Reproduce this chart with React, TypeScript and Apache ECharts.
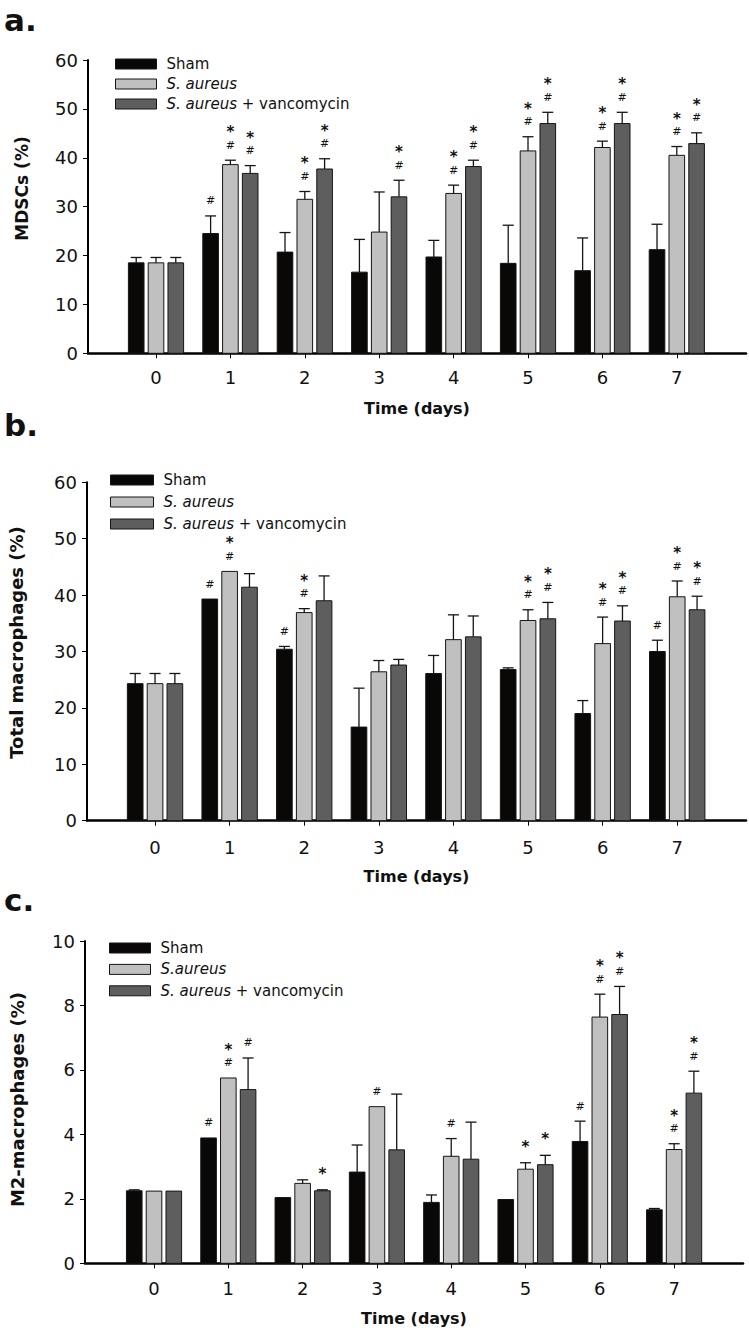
import React, { useEffect, useRef } from "react";
import * as echarts from "echarts";

const days = [0, 1, 2, 3, 4, 5, 6, 7];

// Panel a: MDSCs (%)
const aSham = [18.5, 24.5, 20.7, 16.6, 19.7, 18.4, 16.9, 21.2];
const aShamErr = [1.1, 3.6, 4.0, 6.7, 3.4, 7.8, 6.7, 5.2];
const aAur = [18.5, 38.6, 31.5, 24.8, 32.7, 41.4, 42.1, 40.5];
const aAurErr = [1.1, 0.9, 1.6, 8.2, 1.7, 2.9, 1.3, 1.8];
const aVan = [18.5, 36.8, 37.7, 32.0, 38.2, 47.0, 47.0, 42.9];
const aVanErr = [1.1, 1.6, 2.1, 3.4, 1.3, 2.3, 2.3, 2.2];
const aShamSig = ["", "#", "", "", "", "", "", ""];
const aAurSig = ["", "#*", "#*", "", "#*", "#*", "#*", "#*"];
const aVanSig = ["", "#*", "#*", "#*", "#*", "#*", "#*", "#*"];

// Panel b: Total macrophages (%)
const bSham = [24.3, 39.3, 30.4, 16.6, 26.1, 26.8, 19.0, 30.0];
const bShamErr = [1.8, 0, 0.5, 6.9, 3.2, 0.3, 2.3, 2.0];
const bAur = [24.3, 44.2, 36.9, 26.4, 32.1, 35.5, 31.4, 39.7];
const bAurErr = [1.8, 0, 0.7, 2.0, 4.4, 1.9, 4.7, 2.8];
const bVan = [24.3, 41.4, 39.0, 27.6, 32.6, 35.8, 35.4, 37.4];
const bVanErr = [1.8, 2.4, 4.4, 1.0, 3.7, 2.9, 2.7, 2.4];
const bShamSig = ["", "#", "#", "", "", "", "", "#"];
const bAurSig = ["", "#*", "#*", "", "", "#*", "#*", "#*"];
const bVanSig = ["", "", "", "", "", "#*", "#*", "#*"];

// Panel c: M2-macrophages (%)
const cSham = [2.25, 3.89, 2.04, 2.83, 1.89, 1.98, 3.78, 1.66];
const cShamErr = [0.03, 0, 0, 0.84, 0.23, 0, 0.63, 0.04];
const cAur = [2.24, 5.75, 2.48, 4.86, 3.32, 2.92, 7.64, 3.53];
const cAurErr = [0, 0, 0.11, 0, 0.55, 0.2, 0.71, 0.18];
const cVan = [2.24, 5.39, 2.25, 3.52, 3.23, 3.06, 7.72, 5.28];
const cVanErr = [0, 0.98, 0.03, 1.73, 1.15, 0.29, 0.87, 0.68];
const cShamSig = ["", "#", "", "", "", "", "#", ""];
const cAurSig = ["", "#*", "", "#", "#", "*", "#*", "#*"];
const cVanSig = ["", "#", "*", "", "", "*", "#*", "#*"];

const legendA = ["Sham", "S. aureus", "S. aureus + vancomycin"];
const legendC = ["Sham", "S.aureus", "S. aureus + vancomycin"];

const FONT = "DejaVu Sans";
const INK = "#111";
const COLORS = ["#0a0707", "#c0c0c0", "#5e5e5e"];
const OFFSETS = [-0.266, 0, 0.266];
const BAR_W = 0.21;

function makeRender(offset: number, color: string, sigs: string[]) {
  return (params: any, api: any) => {
    const x = api.value(0);
    const v = api.value(1);
    const e = api.value(2);
    const tl = api.coord([x + offset - BAR_W / 2, v]);
    const br = api.coord([x + offset + BAR_W / 2, 0]);
    const cx = api.coord([x + offset, v])[0];
    const top = tl[1];
    const errY = api.coord([x + offset, v + e])[1];
    const children: any[] = [
      {
        type: "rect",
        shape: { x: tl[0], y: top, width: br[0] - tl[0], height: br[1] - top },
        style: { fill: color, stroke: "#151515", lineWidth: 1 },
      },
    ];
    if (e > 0) {
      children.push({
        type: "line",
        shape: { x1: cx, y1: top, x2: cx, y2: errY },
        style: { stroke: "#151515", lineWidth: 1.3 },
      });
      children.push({
        type: "line",
        shape: { x1: cx - 5.5, y1: errY, x2: cx + 5.5, y2: errY },
        style: { stroke: "#151515", lineWidth: 1.3 },
      });
    }
    const sig = sigs[params.dataIndex] || "";
    const hasHash = sig.indexOf("#") >= 0;
    const hasStar = sig.indexOf("*") >= 0;
    if (hasHash) {
      children.push({
        type: "text",
        style: {
          text: "#",
          x: cx,
          y: errY - 15,
          align: "center",
          verticalAlign: "middle",
          fontSize: 11,
          fontFamily: FONT,
          fill: INK,
        },
      });
    }
    if (hasStar) {
      children.push({
        type: "text",
        style: {
          text: "*",
          x: cx,
          y: (hasHash ? errY - 32 : errY - 20) + 4,
          align: "center",
          verticalAlign: "middle",
          fontSize: 15,
          fontWeight: "bold",
          fontFamily: FONT,
          fill: INK,
        },
      });
    }
    return { type: "group", children };
  };
}

function buildSeries(
  names: string[],
  vals: number[][],
  errs: number[][],
  sigs: string[][],
  axisIndex: number
) {
  return names.map((name, s) => ({
    type: "custom",
    name,
    xAxisIndex: axisIndex,
    yAxisIndex: axisIndex,
    itemStyle: { color: COLORS[s], borderColor: "#151515", borderWidth: 1 },
    renderItem: makeRender(OFFSETS[s], COLORS[s], sigs[s]),
    encode: { x: 0, y: 1 },
    data: days.map((d, i) => [d, vals[s][i], errs[s][i]]),
    clip: false,
    z: 1,
  }));
}

function legendFormatter(name: string) {
  if (name === "S. aureus + vancomycin") return "{i|S. aureus} + vancomycin";
  if (name.indexOf("S.") === 0) return "{i|" + name + "}";
  return name;
}

function makeLegend(names: string[], left: number, top: number, gap: number, w: number) {
  return {
    orient: "vertical",
    left,
    top,
    padding: 0,
    itemGap: gap,
    itemWidth: w,
    itemHeight: 10,
    icon: "rect",
    selectedMode: false,
    data: names.map((n, s) => ({
      name: n,
      itemStyle: { color: COLORS[s], borderColor: "#151515", borderWidth: 1 },
    })),
    formatter: legendFormatter,
    textStyle: {
      fontFamily: FONT,
      fontSize: 15,
      lineHeight: 16,
      color: INK,
      padding: [0, 0, 0, 5],
      rich: {
        i: { fontFamily: FONT, fontSize: 15, fontStyle: "italic", color: INK, lineHeight: 16 },
      },
    },
  };
}

function makeX(gridIndex: number, min: number, max: number, labelMargin: number, nameGap: number) {
  return {
    type: "value",
    gridIndex,
    min,
    max,
    axisLine: { show: true, onZero: false, lineStyle: { color: "#000", width: 2.5 } },
    axisTick: { show: true, customValues: days, length: 5, lineStyle: { color: "#000", width: 1 } },
    axisLabel: { customValues: days, margin: labelMargin, fontFamily: FONT, fontSize: 18, color: INK },
    splitLine: { show: false },
    name: "Time (days)",
    nameLocation: "middle",
    nameGap,
    nameTextStyle: { fontFamily: FONT, fontSize: 16, fontWeight: "bold", color: INK },
  };
}

function makeY(gridIndex: number, max: number, interval: number) {
  return {
    type: "value",
    gridIndex,
    min: 0,
    max,
    interval,
    axisLine: { show: true, onZero: false, lineStyle: { color: "#000", width: 2 } },
    axisTick: { show: true, length: 5, lineStyle: { color: "#000", width: 1 } },
    axisLabel: { margin: 10, fontFamily: FONT, fontSize: 18, color: INK },
    splitLine: { show: false },
  };
}

function yName(text: string, x: number, y: number, size: number) {
  return {
    type: "text",
    x,
    y,
    rotation: Math.PI / 2,
    style: {
      text,
      x: 0,
      y: 0,
      align: "center",
      verticalAlign: "middle",
      fontFamily: FONT,
      fontSize: size,
      fontWeight: "bold",
      fill: INK,
    },
  };
}

function panelLetter(text: string, x: number, y: number) {
  return {
    type: "text",
    style: {
      text,
      x,
      y,
      align: "left",
      verticalAlign: "middle",
      fontFamily: FONT,
      fontSize: 31,
      fontWeight: "bold",
      fill: INK,
    },
  };
}

export default function App() {
  const ref = useRef<HTMLDivElement>(null);
  useEffect(() => {
    if (!ref.current) return;
    const chart = echarts.init(ref.current, null, { renderer: "svg" });
    const option: any = {
      animation: false,
      backgroundColor: "#ffffff",
      grid: [
        { left: 88, top: 60, width: 658, height: 293.3 },
        { left: 87, top: 482.3, width: 659, height: 338.4 },
        { left: 85, top: 941, width: 658, height: 322.3 },
      ],
      xAxis: [
        makeX(0, -0.914, 7.93, 15, 47),
        makeX(1, -0.912, 7.922, 18, 48),
        makeX(2, -0.929, 7.927, 16.5, 47),
      ],
      yAxis: [makeY(0, 60, 10), makeY(1, 60, 10), makeY(2, 10, 2)],
      legend: [
        makeLegend(legendA, 115, 56, 4, 41),
        makeLegend(legendA, 110, 472, 6, 43),
        makeLegend(legendC, 109, 940, 5.4, 41),
      ],
      graphic: [
        panelLetter("a.", 4, 20),
        panelLetter("b.", 4, 425),
        panelLetter("c.", 4, 900),
        yName("MDSCs (%)", 22, 188.5, 17),
        yName("Total macrophages (%)", 16, 642.5, 18),
        yName("M2-macrophages (%)", 17, 1099.5, 18),
      ],
      series: [
        ...buildSeries(legendA, [aSham, aAur, aVan], [aShamErr, aAurErr, aVanErr], [aShamSig, aAurSig, aVanSig], 0),
        ...buildSeries(legendA, [bSham, bAur, bVan], [bShamErr, bAurErr, bVanErr], [bShamSig, bAurSig, bVanSig], 1),
        ...buildSeries(legendC, [cSham, cAur, cVan], [cShamErr, cAurErr, cVanErr], [cShamSig, cAurSig, cVanSig], 2),
      ],
    };
    chart.setOption(option);
    return () => chart.dispose();
  }, []);
  return (
    <div
      ref={ref}
      style={{ position: "absolute", left: 0, top: 0, width: 749, height: 1333, background: "#fff" }}
    />
  );
}
